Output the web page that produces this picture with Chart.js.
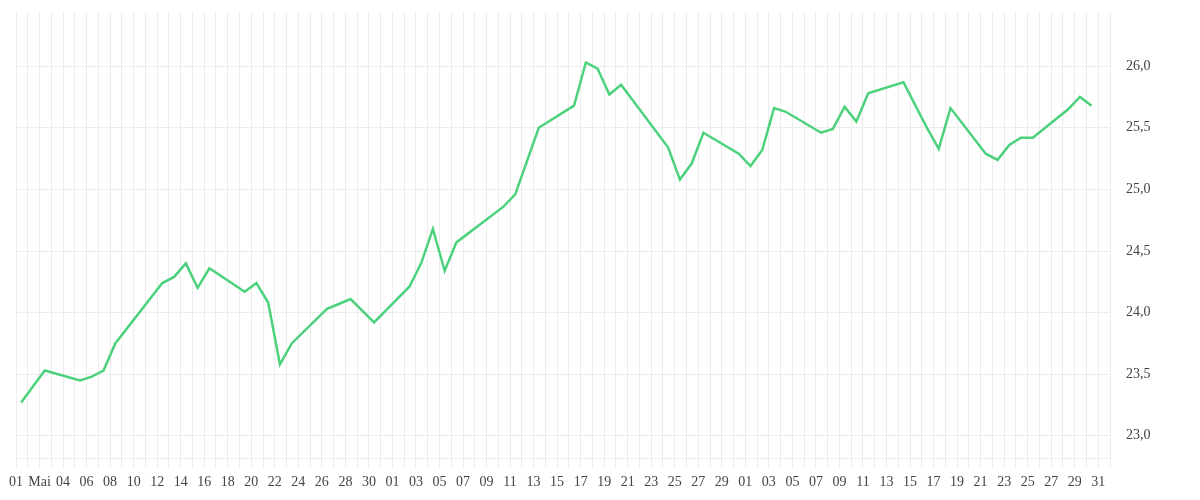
<!DOCTYPE html>
<html>
<head>
<meta charset="utf-8">
<script src="https://cdn.jsdelivr.net/npm/chart.js@4/dist/chart.umd.min.js"></script>
<style>
  html, body { margin: 0; padding: 0; background: #fff; }
  #wrap { width: 1200px; height: 500px; }
</style>
</head>
<body>
<div id="wrap"><canvas id="priceChart"></canvas></div>
<script>
// day index of each close (0 = first grid line) and the closing price
const days = [0, 2, 5, 6, 7, 8, 12, 13, 14, 15, 16, 19, 20, 21, 22, 23, 26, 27, 28, 30,
    33, 34, 35, 36, 37, 41, 42, 44, 47, 48, 49, 50, 51, 55, 56, 57, 58, 61, 62, 63,
    64, 65, 68, 69, 70, 71, 72, 75, 77, 78, 79, 82, 83, 84, 85, 86, 89, 90, 91];
const prices = [23.27, 23.53, 23.45, 23.48, 23.53, 23.75, 24.24, 24.29, 24.40, 24.20,
    24.36, 24.17, 24.24, 24.08, 23.58, 23.75, 24.03, 24.07, 24.11, 23.92,
    24.21, 24.40, 24.68, 24.34, 24.57, 24.86, 24.96, 25.50, 25.68, 26.03,
    25.98, 25.77, 25.85, 25.34, 25.08, 25.21, 25.46, 25.29, 25.19, 25.32,
    25.66, 25.63, 25.46, 25.49, 25.67, 25.55, 25.78, 25.87, 25.50, 25.33,
    25.66, 25.29, 25.24, 25.36, 25.42, 25.42, 25.65, 25.75, 25.68];
// labels on every second grid line
const tickLabels = ['01', 'Mai', '04', '06', '08', '10', '12', '14', '16', '18', '20', '22', '24', '26', '28', '30',
    '01', '03', '05', '07', '09', '11', '13', '15', '17', '19', '21', '23', '25', '27', '29',
    '01', '03', '05', '07', '09', '11', '13', '15', '17', '19', '21', '23', '25', '27', '29', '31'];

const closeTime = 0.44; // closes sit a bit past the day's grid line

const points = days.map((d, i) => ({ x: d + closeTime, y: prices[i] }));

const gridColor = '#ececec';
const textFont = { family: 'Liberation Serif', size: 14 };

new Chart(document.getElementById('priceChart'), {
    type: 'line',
    data: {
        datasets: [{
            data: points,
            borderColor: '#4cd27c',
            borderWidth: 2.5,
            pointRadius: 0,
            tension: 0,
            fill: false
        }]
    },
    options: {
        responsive: true,
        maintainAspectRatio: false,
        animation: false,
        layout: {
            padding: { left: 16, right: 48, top: 12, bottom: 0 }
        },
        scales: {
            x: {
                type: 'linear',
                min: 0,
                max: 93,
                grid: { color: gridColor, tickLength: 10 },
                border: { color: gridColor },
                ticks: {
                    stepSize: 1,
                    autoSkip: false,
                    maxRotation: 0,
                    padding: 6,
                    color: '#444',
                    font: textFont,
                    callback: function (value) {
                        return value % 2 === 0 ? tickLabels[value / 2] : '';
                    }
                },
                afterFit: function (scale) {
                    scale.height = 42;
                    scale.paddingLeft = 0;
                    scale.paddingRight = 0;
                }
            },
            y: {
                position: 'right',
                min: 22.82,
                max: 26.44,
                grid: { color: gridColor, drawTicks: false },
                border: { color: gridColor },
                ticks: {
                    stepSize: 0.5,
                    includeBounds: false,
                    padding: 16,
                    color: '#444',
                    font: textFont,
                    callback: function (value) {
                        return value.toFixed(1).replace('.', ',');
                    }
                },
                afterFit: function (scale) {
                    scale.width = 42;
                    scale.paddingTop = 0;
                    scale.paddingBottom = 0;
                }
            }
        },
        plugins: {
            legend: { display: false },
            tooltip: { enabled: false }
        }
    }
});
</script>
</body>
</html>
